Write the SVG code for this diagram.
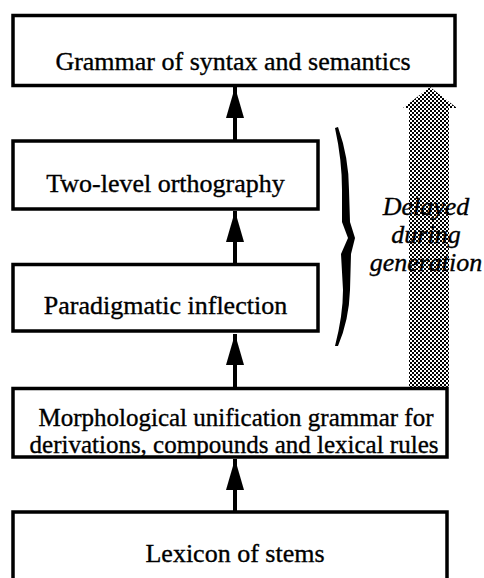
<svg xmlns="http://www.w3.org/2000/svg" width="484" height="578" viewBox="0 0 484 578">
<style>
.box{fill:#fff;stroke:#000;stroke-width:3.5}
.t{font-family:"Liberation Serif","Times New Roman",serif;font-size:26px;fill:#000;stroke:#000;stroke-width:0.35;text-anchor:middle}
.s{font-size:25px}
.it{font-family:"Liberation Serif","Times New Roman",serif;font-size:26px;font-style:italic;fill:#000;stroke:#000;stroke-width:0.35;text-anchor:middle}
.shaft{stroke:#000;stroke-width:4;fill:none}
</style>
<defs>
<pattern id="dots" width="4" height="4" patternUnits="userSpaceOnUse">
<rect width="4" height="4" fill="#fff"/>
<rect x="0" y="0" width="2" height="2" fill="#000"/>
<rect x="2" y="2" width="2" height="2" fill="#000"/>
</pattern>
<marker id="ah" viewBox="0 0 31 18" refX="31" refY="9" markerWidth="31" markerHeight="18" markerUnits="userSpaceOnUse" orient="auto">
<path d="M0,0 L31,9 L0,18 Z" fill="#000"/>
</marker>
</defs>
<rect width="484" height="578" fill="#fff"/>
<g id="delayed-arrow">
<path d="M430,87 L457,108 L449,108 L449,388 L409,388 L409,108 L403,108 Z" fill="url(#dots)"/>
</g>
<g id="connectors">
<line class="shaft" x1="235" y1="141" x2="235" y2="87" marker-end="url(#ah)"/>
<line class="shaft" x1="235" y1="264" x2="235" y2="211" marker-end="url(#ah)"/>
<line class="shaft" x1="235" y1="388" x2="235" y2="334" marker-end="url(#ah)"/>
<line class="shaft" x1="235" y1="512" x2="235" y2="459" marker-end="url(#ah)"/>
</g>
<g id="grammar">
<rect class="box" x="13" y="15.5" width="442" height="70"/>
<text class="t" x="233" y="70">Grammar of syntax and semantics</text>
</g>
<g id="two-level">
<rect class="box" x="13" y="141" width="305" height="68"/>
<text class="t" x="165.5" y="192">Two-level orthography</text>
</g>
<g id="paradigmatic">
<rect class="box" x="13" y="264.5" width="305" height="66.5"/>
<text class="t" x="165.5" y="314">Paradigmatic inflection</text>
</g>
<g id="morphological">
<rect class="box" x="13" y="388.5" width="434" height="68.5"/>
<text class="t s" x="236" y="426">Morphological unification grammar for</text>
<text class="t s" x="234" y="453">derivations, compounds and lexical rules</text>
</g>
<g id="lexicon">
<rect class="box" x="13" y="512" width="434" height="80"/>
<text class="t" x="235" y="562">Lexicon of stems</text>
</g>
<g id="brace">
<path d="M335,128 L338,127 Q349,158 349,190 L350,222 L355,238 L351,254 L350,290 Q349,320 338,346 L335,346 Q343,315 343,290 L341,254 L348,238 L342,222 L342,190 Q342,160 335,128 Z" fill="#000"/>
</g>
<g id="delayed-label">
<text class="it" x="426" y="215">Delayed</text>
<text class="it" x="426" y="243">during</text>
<text class="it" x="426" y="271">generation</text>
</g>
</svg>
